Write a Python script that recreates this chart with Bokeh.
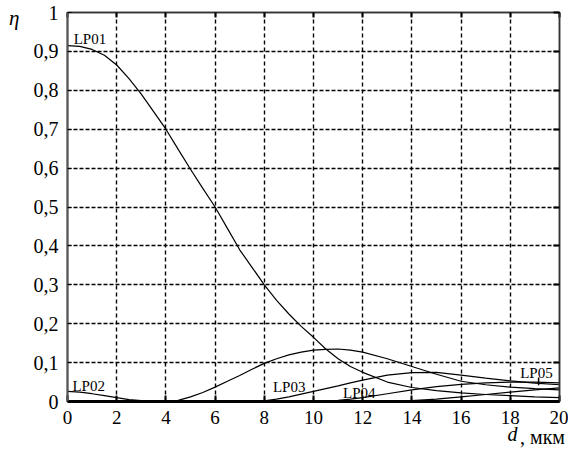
from bokeh.plotting import figure
from bokeh.models import FixedTicker, Range1d, LinearAxis
from bokeh.core.properties import value
from bokeh.embed import file_html
from bokeh.resources import INLINE

# ---- data ----
d = [0, 0.5, 1, 1.5, 2, 2.5, 3, 3.5, 4, 4.5, 5, 5.5, 6, 6.5, 7, 7.5, 8, 8.5, 9, 9.5, 10,
     10.5, 11, 11.5, 12, 13, 14, 15, 16, 17, 18, 19, 20]
lp01 = [0.915, 0.913, 0.905, 0.89, 0.865, 0.83, 0.79, 0.745, 0.70, 0.648, 0.597, 0.548,
        0.50, 0.445, 0.39, 0.345, 0.30, 0.26, 0.225, 0.193, 0.165, 0.135, 0.11, 0.09,
        0.075, 0.05, 0.036, 0.028, 0.022, 0.018, 0.015, 0.012, 0.010]
lp02 = [0.026, 0.024, 0.020, 0.015, 0.010, 0.005, 0.002, 0.0, 0.0, 0.003, 0.012, 0.023,
        0.037, 0.052, 0.067, 0.083, 0.098, 0.110, 0.120, 0.127, 0.132, 0.134,
        0.135, 0.132, 0.127, 0.110, 0.090, 0.070, 0.052, 0.043, 0.037, 0.033, 0.030]
lp03 = [0.0, 0.0, 0.0, 0.0, 0.0, 0.0, 0.0, 0.0, 0.0, 0.0, 0.0, 0.0, 0.0, 0.0, 0.0, 0.0,
        0.002, 0.006, 0.012, 0.019, 0.026, 0.033, 0.040, 0.048, 0.055, 0.068, 0.074,
        0.075, 0.068, 0.060, 0.053, 0.047, 0.043]
lp04 = [0.0, 0.0, 0.0, 0.0, 0.0, 0.0, 0.0, 0.0, 0.0, 0.0, 0.0, 0.0, 0.0, 0.0, 0.0, 0.0,
        0.0, 0.0, 0.0, 0.0, 0.0, 0.001, 0.003, 0.006, 0.010, 0.020, 0.030, 0.038,
        0.044, 0.048, 0.050, 0.050, 0.048]
lp05 = [0.0, 0.0, 0.0, 0.0, 0.0, 0.0, 0.0, 0.0, 0.0, 0.0, 0.0, 0.0, 0.0, 0.0, 0.0, 0.0,
        0.0, 0.0, 0.0, 0.0, 0.0, 0.0, 0.0, 0.0, 0.0, 0.0, 0.002, 0.006, 0.012, 0.018,
        0.024, 0.030, 0.035]

label_names = ["LP01", "LP02", "LP03", "LP04", "LP05"]
label_d = [0.25, 0.2, 8.35, 11.2, 18.4]
label_eta = [0.933, 0.041, 0.036, 0.023, 0.072]

x_ticks = [0, 2, 4, 6, 8, 10, 12, 14, 16, 18, 20]
y_ticks = [0, 0.1, 0.2, 0.3, 0.4, 0.5, 0.6, 0.7, 0.8, 0.9, 1]
y_tick_labels = ["0", "0,1", "0,2", "0,3", "0,4", "0,5", "0,6", "0,7", "0,8", "0,9", "1"]

y_title = "η"
x_title_var = "d"
x_title_unit = ", мкм"

FONT = "'Liberation Serif', 'Times New Roman', serif"
W, H = 568, 456

p = figure(width=W, height=H, output_backend="svg", toolbar_location=None,
           x_range=Range1d(0, 20), y_range=Range1d(0, 1),
           min_border_left=67, min_border_right=9, min_border_top=12, min_border_bottom=55)
p.background_fill_color = "white"
p.border_fill_color = "white"
p.outline_line_color = "#333333"
p.outline_line_width = 1.5

# grid
p.xgrid.ticker = FixedTicker(ticks=x_ticks)
p.ygrid.ticker = FixedTicker(ticks=y_ticks)
p.xgrid.grid_line_color = "black"
p.xgrid.grid_line_dash = "4 3"
p.xgrid.grid_line_width = 1.4
p.ygrid.grid_line_color = "black"
p.ygrid.grid_line_dash = "4 2"
p.ygrid.grid_line_width = 1.6

# axes
xa = p.xaxis[0]
xa.ticker = FixedTicker(ticks=x_ticks)
xa.axis_line_width = 3
xa.axis_line_color = "black"
xa.major_tick_in = 6
xa.major_tick_out = 0
xa.major_tick_line_width = 2
xa.minor_tick_line_color = None
xa.major_label_text_font = FONT
xa.major_label_text_font_size = "19px"
xa.major_label_text_color = "black"
xa.major_label_standoff = 9

ya = p.yaxis[0]
ya.ticker = FixedTicker(ticks=y_ticks)
ya.major_label_overrides = dict(zip(y_ticks, y_tick_labels))
ya.axis_line_width = 2
ya.axis_line_color = "#555555"
ya.major_tick_in = 4
ya.major_tick_out = 0
ya.minor_tick_line_color = None
ya.major_label_text_font = FONT
ya.major_label_text_font_size = "20px"
ya.major_label_text_color = "black"
ya.major_label_standoff = 9

ra = LinearAxis(ticker=FixedTicker(ticks=y_ticks), major_label_text_color=None,
                major_label_standoff=0,
                major_tick_in=6, major_tick_out=0, major_tick_line_width=2,
                minor_tick_line_color=None, axis_line_color="#333333", axis_line_width=1.5)
ta = LinearAxis(ticker=FixedTicker(ticks=x_ticks), major_label_text_color=None,
                major_label_standoff=0,
                major_tick_in=5, major_tick_out=0, major_tick_line_width=2,
                minor_tick_line_color=None, axis_line_color="#333333", axis_line_width=1.5)
p.add_layout(ra, "right")
p.add_layout(ta, "above")

# y title "η": single tick label of an extra left axis, near the top
eta_pos = 0.985
eta_axis = LinearAxis(ticker=FixedTicker(ticks=[eta_pos]),
                      major_label_overrides={eta_pos: y_title},
                      axis_line_color=None, major_tick_line_color=None,
                      minor_tick_line_color=None, major_tick_in=0, major_tick_out=0,
                      major_label_standoff=11,
                      major_label_text_font=FONT, major_label_text_font_style="italic",
                      major_label_text_font_size="21px", major_label_text_color="black")
p.add_layout(eta_axis, "left")

# x title "d, мкм": two extra bottom axes whose single tick labels share one row
d_pos = 18.09
unit_pos = 19.31
d_axis = LinearAxis(ticker=FixedTicker(ticks=[d_pos]),
                    major_label_overrides={d_pos: x_title_var},
                    axis_line_color=None, major_tick_line_color=None,
                    minor_tick_line_color=None, major_tick_out=0, major_tick_in=0,
                    major_label_standoff=-4,
                    major_label_text_font=FONT, major_label_text_font_style="italic",
                    major_label_text_font_size="20px", major_label_text_color="black")
unit_axis = LinearAxis(ticker=FixedTicker(ticks=[unit_pos]),
                       major_label_overrides={unit_pos: x_title_unit},
                       axis_line_color=None, major_tick_line_color=None,
                       minor_tick_line_color=None, major_tick_out=0, major_tick_in=0,
                       major_label_standoff=-22,
                       major_label_text_font=FONT, major_label_text_font_style="normal",
                       major_label_text_font_size="20px", major_label_text_color="black")
p.add_layout(d_axis, "below")
p.add_layout(unit_axis, "below")

# curves
for ys in (lp01, lp02, lp03, lp04, lp05):
    p.line(d, ys, line_color="black", line_width=1.2)

# curve labels
p.text(x=label_d, y=label_eta, text=label_names, text_font=value(FONT),
       text_font_size="15px", text_color="black", text_baseline="alphabetic",
       text_align="left")
# LP05 pointer
p.segment(x0=[19.15], y0=[0.062], x1=[19.15], y1=[0.042], line_color="black", line_width=1.5)

open("out.html", "w").write(file_html(p, INLINE))
